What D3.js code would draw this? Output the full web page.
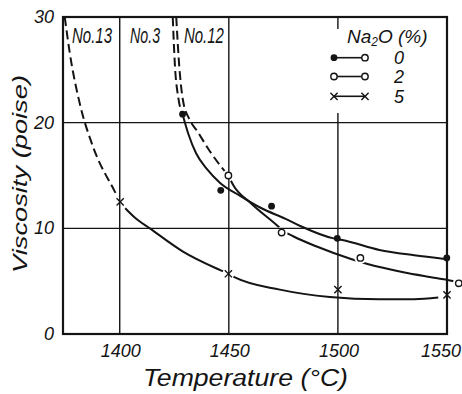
<!DOCTYPE html>
<html><head><meta charset="utf-8">
<script src="https://cdn.jsdelivr.net/npm/d3@7"></script>
<style>
body{margin:0;background:#fff}
svg{display:block}
text{font-family:"Liberation Sans",Arial,sans-serif;font-style:italic;fill:#141414}
</style>
</head><body>
<svg id="c" width="462" height="394"></svg>
<script>
// ---- data ----
const xTicks = [1400, 1450, 1500, 1550];
const yTicks = [0, 10, 20, 30];
const xGrid = [1400, 1450, 1500];
const yGrid = [10, 20];
const seriesNames = ["0", "2", "5"];          // Na2O (%)
const curveLabels = ["No.13", "No.3", "No.12"];
const curveLabelTemps = [1387.3, 1411.6, 1438.6];

// measured points (temperature °C, viscosity poise)
const temp0 = [1428.8, 1446.3, 1469.6, 1499.7, 1549.9];
const visc0 = [20.8, 13.6, 12.1, 9.05, 7.2];
const temp2 = [1449.8, 1474.2, 1510.3, 1555.4];
const visc2 = [15.0, 9.6, 7.2, 4.8];
const temp5 = [1400.2, 1449.8, 1500.0, 1550.0];
const visc5 = [12.5, 5.7, 4.2, 3.7];

// hand-drawn curves (dashed = extrapolated, solid = fitted)
const curve0Dashed = [[1424.3,30],[1425.3,25.4],[1426.9,22.3],[1428.8,20.8]];
const curve0Solid  = [[1428.8,20.8],[1431.5,18.9],[1435,17.1],[1440,15.6],[1446,14.3],[1455,13.1],[1465,11.9],[1476,10.9],[1483,10.2],[1498,9.05],[1502,8.9],[1519,7.95],[1535,7.45],[1549,7.1]];
const curve2Dashed = [[1425.9,30],[1427.3,25.3],[1429,22.1],[1432,20.3],[1435.5,19.2],[1441.3,17.3],[1446.6,15.8],[1449.8,15.0]];
const curve2Solid  = [[1449.8,15.0],[1452,14.1],[1460,12.4],[1472,10.3],[1475,9.75],[1479.5,9.25],[1490,8.3],[1506,7.1],[1514,6.6],[1530,5.85],[1545,5.3],[1553,5.0],[1555.4,4.85]];
const curve5Dashed = [[1374.8,30],[1377.1,26.6],[1381.7,21.8],[1387.8,17.7],[1397.7,13.5],[1400.2,12.5]];
const curve5Solid  = [[1402.5,11.9],[1407,11.0],[1413.8,10.0],[1429,7.8],[1446,6.05],[1449.8,5.7],[1452.8,5.36],[1473.4,4.2],[1496.3,3.5],[1519,3.28],[1535,3.3],[1546,3.45]];

// ---- drawing ----
const svg = d3.select("#c");
const xMin = 1374, xMax = 1550, yMin = 0, yMax = 30;
const x = d3.scaleLinear().domain([xMin, xMax]).range([63, 447]);
const y = d3.scaleLinear().domain([yMin, yMax]).range([334, 17]);
const ink = "#141414";

// grid
svg.append("g").selectAll("line").data(xGrid).join("line")
  .attr("x1", d => x(d)).attr("x2", d => x(d)).attr("y1", y(yMin)).attr("y2", y(yMax))
  .attr("stroke", ink).attr("stroke-width", 1.4);
svg.append("g").selectAll("line").data(yGrid).join("line")
  .attr("x1", x(xMin)).attr("x2", x(xMax)).attr("y1", d => y(d)).attr("y2", d => y(d))
  .attr("stroke", ink).attr("stroke-width", 1.4);

// legend backdrop (interrupts the 1500 grid line)
svg.append("rect").attr("x", 318).attr("y", 29).attr("width", 126).attr("height", 84).attr("fill", "#fff");

// frame
svg.append("rect").attr("x", x(xMin)).attr("y", y(yMax))
  .attr("width", x(xMax) - x(xMin)).attr("height", y(yMin) - y(yMax))
  .attr("fill", "none").attr("stroke", ink).attr("stroke-width", 2.2);

// tick labels
svg.append("g").selectAll("text").data(xTicks).join("text")
  .attr("x", d => x(d) + (d === 1550 ? -6 : 1)).attr("y", 357)
  .attr("text-anchor", "middle").attr("font-size", 18)
  .attr("textLength", 40).attr("lengthAdjust", "spacingAndGlyphs").text(d => d);
svg.append("g").selectAll("text").data(yTicks).join("text")
  .attr("x", 54).attr("y", d => y(d) + 6)
  .attr("text-anchor", "end").attr("font-size", 18).text(d => d);

// axis titles
svg.append("text").attr("x", 143).attr("y", 386).attr("font-size", 23)
  .attr("textLength", 205).attr("lengthAdjust", "spacingAndGlyphs").text("Temperature  (°C)");
svg.append("text").attr("transform", "translate(27,273) rotate(-90)").attr("font-size", 21)
  .attr("textLength", 198).attr("lengthAdjust", "spacingAndGlyphs").text("Viscosity  (poise)");

// curve labels
svg.append("g").selectAll("text").data(curveLabels).join("text")
  .attr("x", (d, i) => x(curveLabelTemps[i])).attr("y", 43)
  .attr("text-anchor", "middle").attr("font-size", 22)
  .attr("textLength", (d, i) => i === 1 ? 30 : 40).attr("lengthAdjust", "spacingAndGlyphs")
  .text(d => d);

// mask to open gaps in curves around open circles and crosses
const defs = svg.append("defs");
const mask = defs.append("mask").attr("id", "gap").attr("maskUnits", "userSpaceOnUse")
  .attr("x", 0).attr("y", 0).attr("width", 462).attr("height", 394);
mask.append("rect").attr("width", 462).attr("height", 394).attr("fill", "#fff");
const gapPts = temp2.map((t, i) => [t, visc2[i]]).concat(temp5.map((t, i) => [t, visc5[i]]));
mask.selectAll("circle").data(gapPts).join("circle")
  .attr("cx", d => x(d[0])).attr("cy", d => y(d[1])).attr("r", 6).attr("fill", "#000");

const line = d3.line().x(d => x(d[0])).y(d => y(d[1])).curve(d3.curveMonotoneX);
const curves = svg.append("g").attr("mask", "url(#gap)").attr("fill", "none").attr("stroke", ink).attr("stroke-width", 2);
[curve0Dashed, curve2Dashed, curve5Dashed].forEach(c =>
  curves.append("path").attr("d", line(c)).attr("stroke-dasharray", "9,4.5"));
[curve0Solid, curve2Solid, curve5Solid].forEach(c =>
  curves.append("path").attr("d", line(c)));

// markers
function filled(g, cx, cy) { g.append("circle").attr("cx", cx).attr("cy", cy).attr("r", 3.4).attr("fill", ink); }
function open(g, cx, cy) { g.append("circle").attr("cx", cx).attr("cy", cy).attr("r", 3.2).attr("fill", "#fff").attr("stroke", ink).attr("stroke-width", 1.4); }
function cross(g, cx, cy) {
  const s = 3.6;
  g.append("path").attr("d", `M${cx-s},${cy-s}L${cx+s},${cy+s}M${cx-s},${cy+s}L${cx+s},${cy-s}`)
    .attr("stroke", ink).attr("stroke-width", 1.4).attr("fill", "none");
}
const mk = svg.append("g");
temp0.forEach((t, i) => filled(mk, x(t), y(visc0[i])));
temp2.forEach((t, i) => open(mk, x(t), y(visc2[i])));
temp5.forEach((t, i) => cross(mk, x(t), y(visc5[i])));

// legend
const lg = svg.append("g");
const title = lg.append("text").attr("x", 347).attr("y", 43).attr("font-size", 19);
title.append("tspan").text("Na");
title.append("tspan").attr("dy", 3).attr("font-size", 12).text("2");
title.append("tspan").attr("dy", -3).text("O (%)");
const rowY = [57.7, 76.5, 96.3];
const markerSets = [[filled, open], [open, open], [cross, cross]];
seriesNames.forEach((n, i) => {
  lg.append("line").attr("x1", 334).attr("x2", 365).attr("y1", rowY[i]).attr("y2", rowY[i])
    .attr("stroke", ink).attr("stroke-width", 1.6);
  markerSets[i][0](lg, 334, rowY[i]);
  markerSets[i][1](lg, 365, rowY[i]);
  lg.append("text").attr("x", 399).attr("y", rowY[i] + 6.5).attr("text-anchor", "middle")
    .attr("font-size", 18).text(n);
});
</script>
</body></html>
